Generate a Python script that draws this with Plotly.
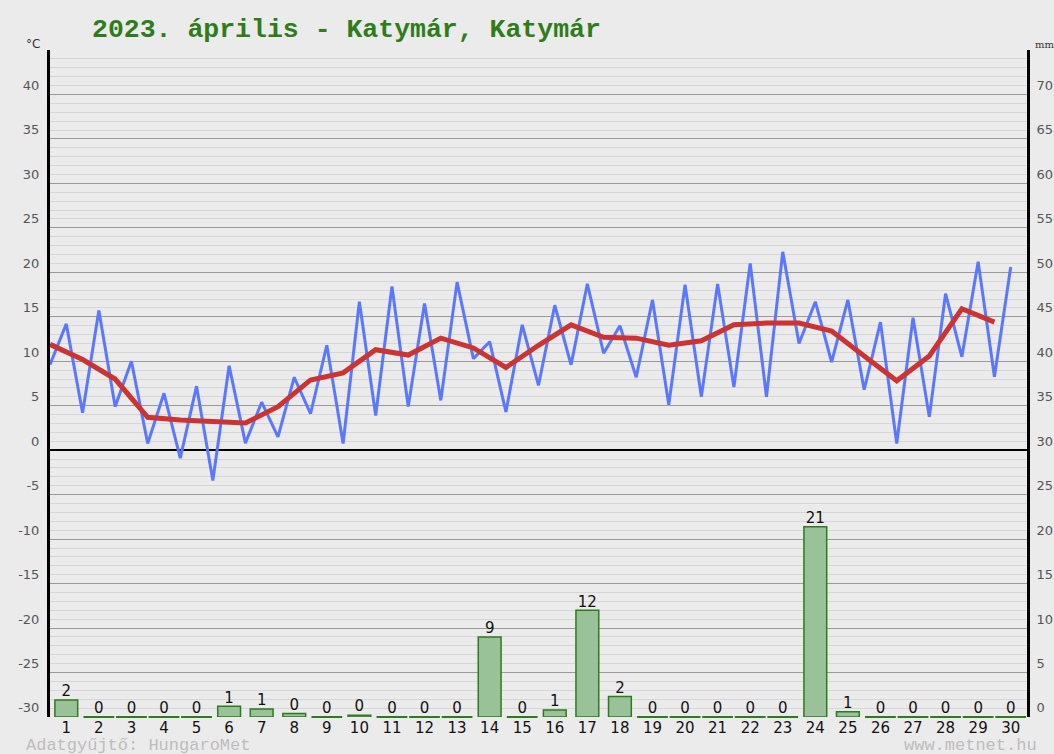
import plotly.graph_objects as go

# ---------------- data ----------------
days = list(range(1, 31))
# daily low / high temperatures (°C) - the zig-zag blue line
t_low = [9.6, 4.2, 4.9, 0.75, -0.9, -3.4, 0.8, 1.5, 4.1, 0.75,
         3.9, 4.9, 5.6, 10.3, 4.3, 7.3, 9.6, 10.9, 8.2, 5.1,
         6.0, 7.1, 6.0, 12.0, 9.9, 6.8, 0.75, 3.75, 10.5, 8.25]
t_high = [14.2, 15.7, 10.0, 6.4, 7.2, 9.5, 5.4, 8.2, 11.8, 16.7,
          18.4, 16.5, 18.9, 12.2, 14.1, 16.3, 18.7, 14.0, 16.9, 18.6,
          18.7, 21.0, 22.3, 16.7, 16.9, 14.4, 14.9, 17.6, 21.2, 20.6]
# daily mean temperature (°C) - red line
t_mean = [11.9, 10.2, 8.0, 3.7, 3.4, 3.25, 3.05, 4.9, 7.9, 8.7,
          11.3, 10.7, 12.6, 11.5, 9.3, 11.8, 14.1, 12.7, 12.6, 11.8,
          12.3, 14.1, 14.3, 14.3, 13.4, 10.6, 7.8, 10.6, 15.9, 14.4]
# daily precipitation (mm)
precip = [1.9, 0, 0, 0, 0, 1.2, 0.9, 0.4, 0, 0.2,
          0, 0, 0, 9.0, 0, 0.8, 12.0, 2.3, 0, 0,
          0, 0, 0, 21.4, 0.6, 0, 0, 0, 0, 0]

temp_ticks = list(range(-30, 46, 5))
temp_labels = [str(v) if v < 45 else "" for v in temp_ticks]
mm_ticks = list(range(0, 76, 5))
mm_labels = [str(v) if v < 75 else "" for v in mm_ticks]

title_text = "2023. április - Katymár, Katymár"
source_text = "Adatgyűjtő: HungaroMet"
site_text = "www.metnet.hu"

# ---------------- layout helpers ----------------
W, H = 1054, 754
L, R, T, B = 50, 1027, 50, 717


def px_x(px):
    return (px - L) / (R - L)


def px_y(py):
    return (B - py) / (B - T)


# blue line: low at half day before, high at the day
blue_x, blue_y = [], []
for d, lo, hi in zip(days, t_low, t_high):
    blue_x += [d - 0.5, d]
    blue_y += [lo, hi]

mean_x = [d - 0.5 for d in days]

zero_days = [d for d, p in zip(days, precip) if p == 0]
zero_vals = [0 for d in zero_days]

fig = go.Figure()

fig.add_trace(go.Bar(
    x=days, y=precip, yaxis="y2", width=0.7,
    marker=dict(color="#99c299", line=dict(color="#2f7a1f", width=1.5)),
    hoverinfo="skip", showlegend=False,
))
fig.add_trace(go.Scatter(
    x=zero_days, y=zero_vals, yaxis="y2", mode="markers",
    marker=dict(symbol="line-ew", size=22, line=dict(color="#2f7a1f", width=2)),
    cliponaxis=False, hoverinfo="skip", showlegend=False,
))
fig.add_trace(go.Scatter(
    x=days, y=precip, yaxis="y2", mode="text",
    text=[f"{p:.0f}" for p in precip], textposition="top center",
    textfont=dict(family="DejaVu Sans", size=15, color="#111111"),
    cliponaxis=False, hoverinfo="skip", showlegend=False,
))
fig.add_trace(go.Scatter(
    x=blue_x, y=blue_y, mode="lines",
    line=dict(color="#5a78ff", width=3),
    hoverinfo="skip", showlegend=False,
))
fig.add_trace(go.Scatter(
    x=mean_x, y=t_mean, mode="lines",
    line=dict(color="#cc3333", width=5),
    hoverinfo="skip", showlegend=False,
))

tick_font = dict(family="DejaVu Sans", size=13, color="#555555")

fig.update_layout(
    width=W, height=H,
    margin=dict(l=L, r=W - R, t=T, b=H - B, pad=0, autoexpand=False),
    paper_bgcolor="#ebebeb", plot_bgcolor="#ebebeb",
    showlegend=False,
    bargap=0.3,
    xaxis=dict(
        range=[0.5, 30.5], tickmode="array", tickvals=days,
        ticktext=[str(d) for d in days],
        showgrid=False, zeroline=False, showline=False, ticks="",
        tickfont=dict(family="DejaVu Sans", size=15, color="#111111"),
        fixedrange=True, automargin=False,
    ),
    yaxis=dict(
        range=[-30, 45], tickmode="array", tickvals=temp_ticks, ticktext=temp_labels,
        showgrid=True, gridcolor="#9a9a9a", gridwidth=1,
        minor=dict(tickmode="linear", tick0=-30, dtick=1, showgrid=True,
                   gridcolor="#d6d6d6", gridwidth=1, ticks=""),
        zeroline=True, zerolinecolor="#000000", zerolinewidth=2,
        showline=True, linecolor="#000000", linewidth=3,
        ticks="", ticklabelposition="outside top", ticklabelstandoff=5,
        tickfont=tick_font, fixedrange=True, automargin=False,
    ),
    yaxis2=dict(
        range=[0, 75], overlaying="y", side="right",
        tickmode="array", tickvals=mm_ticks, ticktext=mm_labels,
        showgrid=False, zeroline=False,
        showline=True, linecolor="#000000", linewidth=3,
        ticks="", ticklabelposition="outside top", ticklabelstandoff=4,
        tickfont=tick_font, fixedrange=True, automargin=False,
    ),
    annotations=[
        dict(text="<b>" + title_text + "</b>", xref="paper", yref="paper",
             x=px_x(90), y=px_y(30), xanchor="left", yanchor="middle",
             showarrow=False,
             font=dict(family="Liberation Mono", size=26.5, color="#2e7d1a")),
        dict(text="°C", xref="paper", yref="paper",
             x=px_x(24), y=px_y(44), xanchor="left", yanchor="middle",
             showarrow=False, font=dict(family="DejaVu Sans", size=12, color="#333333")),
        dict(text="mm", xref="paper", yref="paper",
             x=px_x(1033), y=px_y(44), xanchor="left", yanchor="middle",
             showarrow=False, font=dict(family="DejaVu Serif", size=10, color="#333333")),
        dict(text=source_text, xref="paper", yref="paper",
             x=px_x(24), y=px_y(745), xanchor="left", yanchor="middle",
             showarrow=False, font=dict(family="Liberation Mono", size=17, color="#bdbdbd")),
        dict(text=site_text, xref="paper", yref="paper",
             x=px_x(1039), y=px_y(745), xanchor="right", yanchor="middle",
             showarrow=False, font=dict(family="Liberation Mono", size=17, color="#bdbdbd")),
    ],
)

fig.write_html(
    "out.html",
    config={"displayModeBar": False},
    post_script="document.body.style.margin='0';document.body.style.overflow='hidden';",
)
